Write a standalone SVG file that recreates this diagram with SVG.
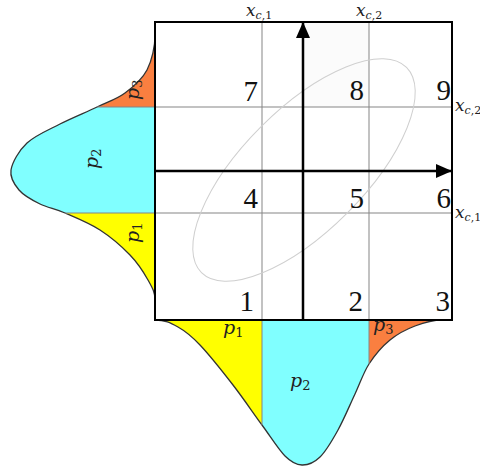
<svg xmlns="http://www.w3.org/2000/svg" width="480" height="468" viewBox="0 0 480 468">
<style>
.num{font-family:"Liberation Serif","DejaVu Serif",serif;font-size:29px;fill:#111;text-anchor:end}
.mi{font-family:"DejaVu Serif","Liberation Serif",serif;font-style:italic;fill:#222}
.grid{stroke:#858585;stroke-width:1;fill:none}
.curve{fill:none;stroke:#333;stroke-width:1.3}
.axis{stroke:#000;stroke-width:2.5;fill:none}
</style>
<defs>
<marker id="arr" viewBox="0 0 16 14" markerWidth="16" markerHeight="14" refX="15" refY="7" orient="auto" markerUnits="userSpaceOnUse">
<path d="M0,0 L16,7 L0,14 Z" fill="#000"/>
</marker>
</defs>
<rect width="480" height="468" fill="#fff"/>

<g id="bottom-distribution">
<path d="M155,320 C165,320 170.5,322.8 178,327 C185.5,331.2 190.8,335.3 200,345 C209.2,354.7 222.7,371.7 233,385 C243.3,398.3 253.3,413.2 262,425 L262,320 Z" fill="#ffff00"/>
<path d="M262,425 C270.7,436.8 278.3,449.3 285,456 C291.7,462.7 296.2,464.8 302,465 C307.8,465.2 314,462.8 320,457 C326,451.2 332.2,440.5 338,430 C343.8,419.5 349.8,405 355,394 C360.2,383 363.2,373 369,364 L369,320 L262,320 Z" fill="#80ffff"/>
<path d="M369,364 C374.8,355 382.3,346.3 390,340 C397.7,333.7 406.3,329.3 415,326 C423.7,322.7 432,320 442,320 L369,320 Z" fill="#fa7f40"/>
<path class="curve" d="M155,320 C165,320 170.5,322.8 178,327 C185.5,331.2 190.8,335.3 200,345 C209.2,354.7 222.7,371.7 233,385 C243.3,398.3 253.3,413.2 262,425 C270.7,436.8 278.3,449.3 285,456 C291.7,462.7 296.2,464.8 302,465 C307.8,465.2 314,462.8 320,457 C326,451.2 332.2,440.5 338,430 C343.8,419.5 349.8,405 355,394 C360.2,383 363.2,373 369,364 C374.8,355 382.3,346.3 390,340 C397.7,333.7 406.3,329.3 415,326 C423.7,322.7 432,320 442,320"/>
<text class="mi" x="223" y="334" font-size="19">p<tspan font-size="13" font-style="normal" dy="3">1</tspan></text>
<text class="mi" x="290" y="387" font-size="19">p<tspan font-size="13" font-style="normal" dy="3">2</tspan></text>
<text class="mi" x="373" y="331" font-size="19">p<tspan font-size="13" font-style="normal" dy="3">3</tspan></text>
</g>

<g id="left-distribution">
<path d="M155,36 C155,46 152,60.5 147,70 C142,79.5 133.3,86.8 125,93 C116.7,99.2 107.8,101.8 97,107 L155,107 Z" fill="#fa7f40"/>
<path d="M97,107 C86.2,112.2 71.7,118 60,124 C48.3,130 35.2,135.3 27,143 C18.8,150.7 12.3,162.2 11,170 C9.7,177.8 14.2,184.3 19,190 C23.8,195.7 32.3,200.2 40,204 C47.7,207.8 55,208.7 65,213 L155,213 L155,107 Z" fill="#80ffff"/>
<path d="M65,213 C75,217.3 89.2,223 100,230 C110.8,237 122,246.7 130,255 C138,263.3 143.8,272.5 148,280 C152.2,287.5 155,292 155,300 L155,213 Z" fill="#ffff00"/>
<path class="curve" d="M155,36 C155,46 152,60.5 147,70 C142,79.5 133.3,86.8 125,93 C116.7,99.2 107.8,101.8 97,107 C86.2,112.2 71.7,118 60,124 C48.3,130 35.2,135.3 27,143 C18.8,150.7 12.3,162.2 11,170 C9.7,177.8 14.2,184.3 19,190 C23.8,195.7 32.3,200.2 40,204 C47.7,207.8 55,208.7 65,213 C75,217.3 89.2,223 100,230 C110.8,237 122,246.7 130,255 C138,263.3 143.8,272.5 148,280 C152.2,287.5 155,292 155,300"/>
<text class="mi" x="139" y="100" font-size="19" transform="rotate(-90 139 100)">p<tspan font-size="13" font-style="normal" dy="3">3</tspan></text>
<text class="mi" x="98" y="169" font-size="19" transform="rotate(-90 98 169)">p<tspan font-size="13" font-style="normal" dy="3">2</tspan></text>
<text class="mi" x="139" y="243" font-size="19" transform="rotate(-90 139 243)">p<tspan font-size="13" font-style="normal" dy="3">1</tspan></text>
</g>

<g id="grid">
<rect x="303" y="23" width="66" height="84" fill="#fbfbfb"/>
<line class="grid" x1="262" y1="22" x2="262" y2="425"/>
<line class="grid" x1="369" y1="22" x2="369" y2="364"/>
<line class="grid" x1="97" y1="107" x2="452" y2="107"/>
<line class="grid" x1="65" y1="213" x2="452" y2="213"/>
<ellipse cx="304" cy="170" rx="145" ry="61" transform="rotate(-45 304 170)" fill="none" stroke="#cfcfcf" stroke-width="1"/>
<rect x="155" y="22" width="297" height="298" fill="none" stroke="#000" stroke-width="2"/>
</g>

<g id="connectors">
<line class="axis" x1="303" y1="320" x2="303" y2="23" marker-end="url(#arr)"/>
<line class="axis" x1="155" y1="171" x2="451" y2="171" marker-end="url(#arr)"/>
</g>

<g id="region-labels">
<text class="num" x="258" y="101">7</text>
<text class="num" x="364" y="100">8</text>
<text class="num" x="451" y="100">9</text>
<text class="num" x="258" y="208">4</text>
<text class="num" x="364" y="208">5</text>
<text class="num" x="451" y="208">6</text>
<text class="num" x="254" y="311">1</text>
<text class="num" x="363" y="311">2</text>
<text class="num" x="450" y="311">3</text>
</g>

<g id="threshold-labels">
<text class="mi" x="246" y="16" font-size="17">x<tspan font-size="11" dy="3">c</tspan><tspan font-size="11" font-style="normal">,1</tspan></text>
<text class="mi" x="356" y="16" font-size="17">x<tspan font-size="11" dy="3">c</tspan><tspan font-size="11" font-style="normal">,2</tspan></text>
<text class="mi" x="455" y="111" font-size="17">x<tspan font-size="11" dy="3">c</tspan><tspan font-size="11" font-style="normal">,2</tspan></text>
<text class="mi" x="455" y="218" font-size="17">x<tspan font-size="11" dy="3">c</tspan><tspan font-size="11" font-style="normal">,1</tspan></text>
</g>
</svg>
